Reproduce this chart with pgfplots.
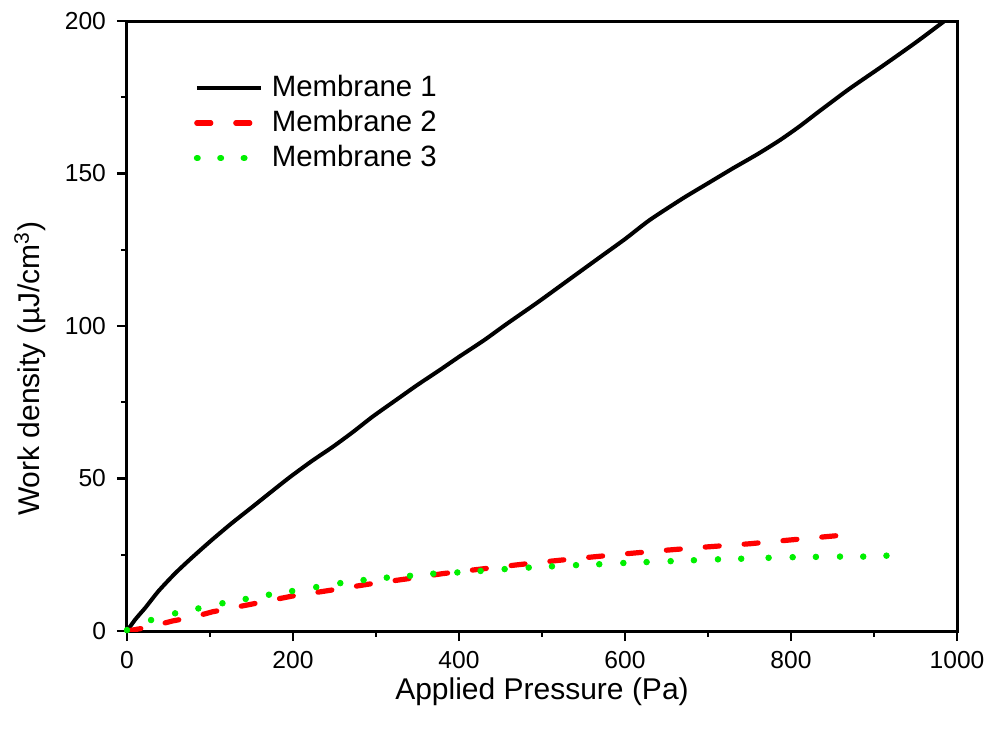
\documentclass[border=0pt]{standalone}
\usepackage{fontspec}
\setmainfont{Liberation Sans}
\usepackage{pgfplots}
\pgfplotsset{compat=1.18}
\definecolor{mred}{RGB}{255,0,0}
\definecolor{mgreen}{RGB}{0,240,0}
\begin{document}
\begin{tikzpicture}
\begin{pgfinterruptboundingbox}
\begin{axis}[
  scale only axis,
  width=415pt, height=305pt,
  xmin=0, xmax=1000, ymin=0, ymax=200,
  xtick={0,200,400,600,800,1000},
  ytick={0,50,100,150,200},
  minor x tick num=1, minor y tick num=1,
  xtick pos=bottom, ytick pos=left,
  tick align=outside,
  major tick length=5pt, minor tick length=2.8pt,
  every tick/.style={black, line width=1.2pt},
  axis line style={line width=1.5pt},
  /pgf/number format/assume math mode=true,
  /pgf/number format/1000 sep={},
  ticklabel style={font=\fontsize{12.3}{14}\selectfont},
  yticklabel style={xshift=-2pt},
  xticklabel style={yshift=-1.5pt},
  xlabel={Applied Pressure (Pa)},
  ylabel={Work density (µJ/cm\textsuperscript{3})},
  label style={font=\fontsize{15}{18}\selectfont},
  xlabel style={at={(axis description cs:0.5,-0.1)}, anchor=center},
  ylabel style={at={(axis description cs:-0.117,0.43)}, anchor=center},
  legend style={draw=none, fill=none, at={(axis description cs:0.08,0.917)}, anchor=north west,
    font=\fontsize{14.7}{17}\selectfont, inner sep=0pt, row sep=1.5pt,
    nodes={inner sep=1pt, text height=11pt, text depth=3pt},
    /tikz/every odd column/.append style={column sep=3pt}},
  legend cell align=left,
  legend image code/.code={\draw[#1] (0pt,0pt) -- (32pt,0pt);},
]
\addplot[black, line width=2pt, smooth, tension=0.4] coordinates {
(0,0) (10,3.8) (22,7.6) (38,13.1) (58,18.9) (78,24.0) (102,29.8) (126,35.3)
(152,40.9) (175,45.9) (196,50.4) (222,55.6) (248,60.4) (272,65.2) (296,70.3)
(325,75.9) (350,80.7) (377,85.6) (400,89.9) (430,95.3) (457,100.6) (495,107.8)
(534,115.5) (570,122.6) (600,128.5) (630,134.8) (670,141.9) (700,146.8)
(730,151.7) (760,156.4) (787,161.0) (810,165.4) (835,170.6) (870,177.7)
(910,185.2) (950,192.9) (985,200)
};
\addlegendentry{Membrane 1}
\addplot[mred, line width=2.6pt, line cap=round, dash pattern=on 7pt off 12.5pt] coordinates {
(0,0) (25,1.2) (55,3.3) (80,4.6) (103,6.3) (150,8.8) (198,11.4) (246,13.4)
(292,15.4) (340,17.2) (380,18.8) (426,20.3) (467,21.6) (500,22.6) (550,24.0)
(600,25.3) (650,26.5) (700,27.6) (750,28.6) (797,29.8) (845,31.0) (857,31.3)
};
\addlegendentry{Membrane 2}
\addplot[only marks, mark=*, mark size=1.4pt, mgreen, mark options={draw=none, fill=mgreen},
  legend image code/.code={\draw[mgreen, line width=3pt, line cap=round, dash pattern=on 0.5pt off 11.2pt] (0pt,0pt) -- (32pt,0pt);}] coordinates {
(0,0.3) (29,3.6) (58,5.8) (86,7.4) (115,9.1) (143,10.5) (171,11.9) (199,13.1)
(228,14.4) (257,15.7) (285,16.7) (313,17.5) (341,18.1) (369,18.8) (398,19.2)
(426,19.7) (455,20.3) (484,20.8) (512,21.2) (541,21.6) (569,21.9) (598,22.3)
(626,22.6) (655,22.9) (683,23.2) (712,23.5) (740,23.7) (773,24.0) (802,24.2)
(830,24.3) (859,24.4) (887,24.4) (915,24.7)
};
\addlegendentry{Membrane 3}
\end{axis}
\end{pgfinterruptboundingbox}
\useasboundingbox ([shift={(-63.5pt,-49pt)}]current axis.south west) rectangle ([shift={(15.5pt,10.5pt)}]current axis.north east);
\end{tikzpicture}
\end{document}
